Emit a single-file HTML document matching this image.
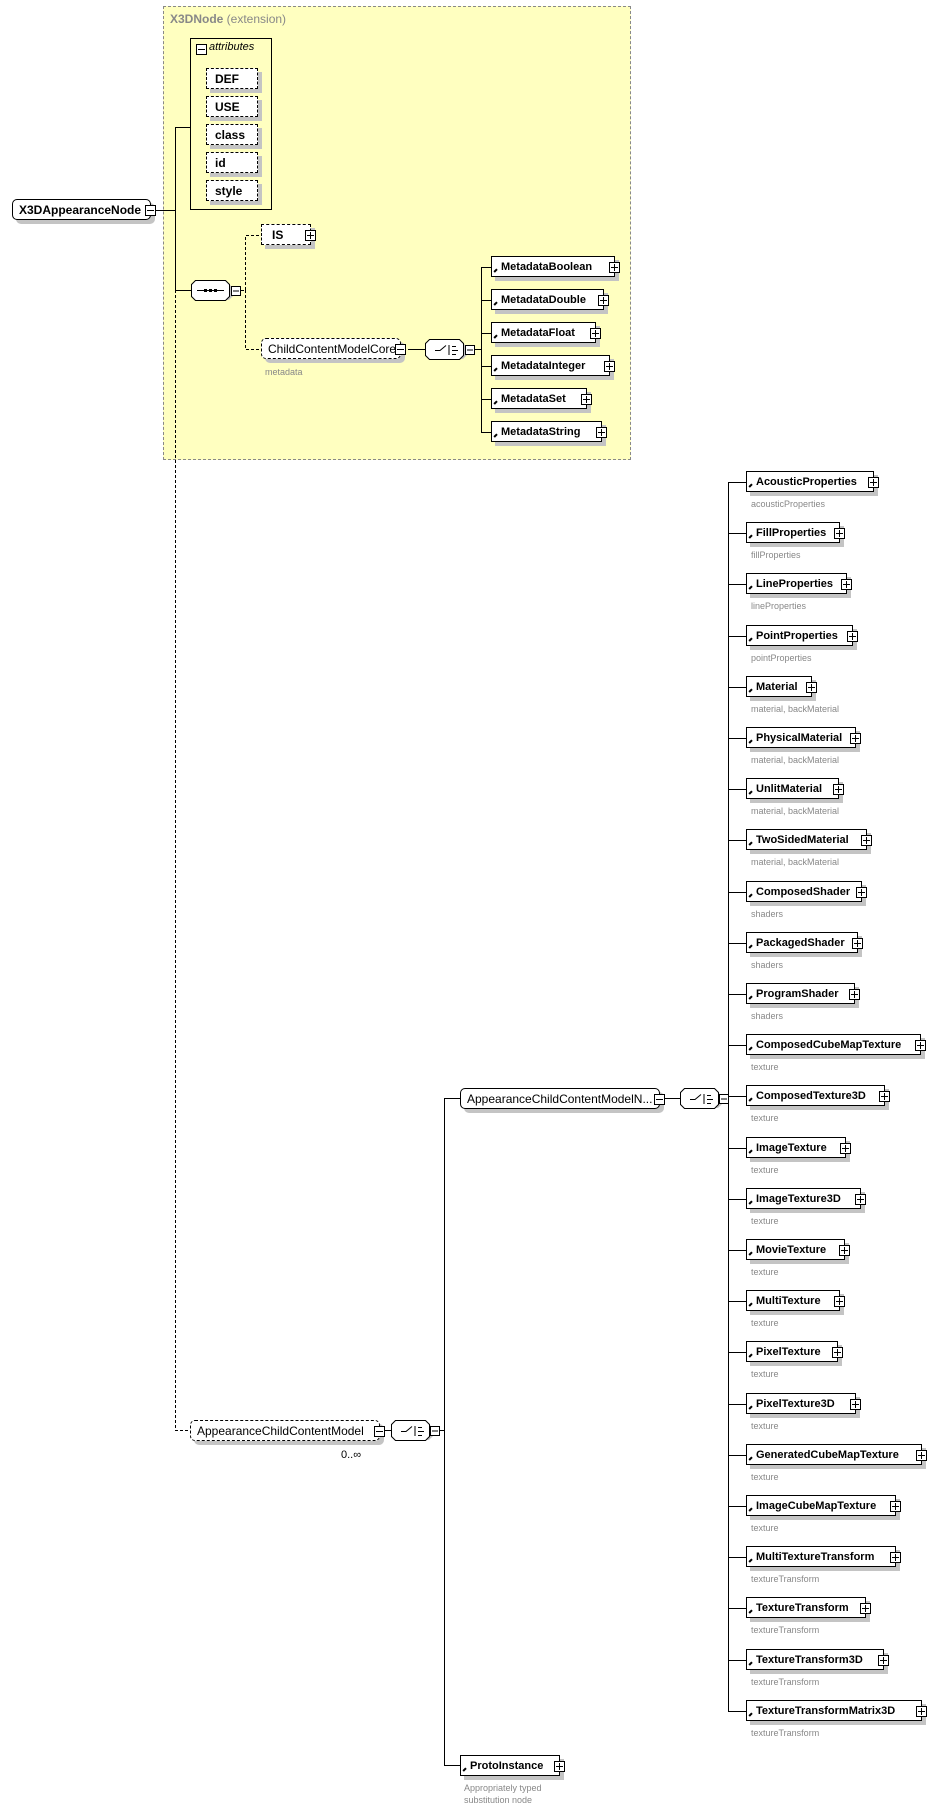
<!DOCTYPE html>
<html><head><meta charset="utf-8"><style>
body{margin:0;width:948px;height:1803px;position:relative;background:#fff;font-family:"Liberation Sans",sans-serif;overflow:hidden}
.e,.a{position:absolute;height:21px;border:1px solid #000;background:#fff;box-shadow:4px 4px 0 #c4c4c4;font-weight:bold;font-size:11px;line-height:21px;padding-left:9px;box-sizing:border-box;white-space:nowrap}
.e:before{content:"";position:absolute;left:2px;bottom:2px;width:4px;height:4px;border-left:2px solid #000;border-bottom:0;transform:rotate(45deg);}
.p{position:absolute;right:-6px;top:5px;width:9px;height:9px;border:1px solid #000;background:#fff;font-size:0}
.p:before{content:"";position:absolute;left:1px;top:4px;width:7px;height:1px;background:#000}
.p.pl:after{content:"";position:absolute;left:4px;top:1px;width:1px;height:7px;background:#000}
.a{border-style:dashed;padding-left:8px;font-size:12px}
.l{position:absolute;font-size:9px;color:#888;white-space:nowrap}
.g{position:absolute;height:21px;border:1px dashed #000;border-radius:5px;background:#fff;box-shadow:4px 4px 0 #c4c4c4;font-size:12px;line-height:21px;padding-left:6px;box-sizing:border-box;white-space:nowrap}
.s{position:absolute;height:21px;border:1px solid #000;border-radius:5px;background:#fff;box-shadow:4px 4px 0 #c4c4c4;font-size:12px;line-height:21px;padding-left:6px;box-sizing:border-box;white-space:nowrap}
</style></head><body>
<div style="position:absolute;left:163px;top:6px;width:468px;height:454px;background:#ffffc0;border:1px dashed #888;box-sizing:border-box"></div>
<div style="position:absolute;left:170px;top:12px;font-size:12px;color:#888"><b>X3DNode</b> (extension)</div>
<div style="position:absolute;left:190px;top:38px;width:82px;height:172px;border:1px solid #000;box-sizing:border-box;background:#ffffc0"></div>
<div style="position:absolute;left:196px;top:44px;width:9px;height:9px;border:1px solid #000;background:#fff"><div style="position:absolute;left:1px;top:4px;width:7px;height:1px;background:#000"></div></div>
<div style="position:absolute;left:209px;top:41px;font-size:11px;font-style:italic">attributes</div>

<svg width="948" height="1803" style="position:absolute;left:0;top:0" fill="none" stroke="#000" stroke-width="1">
<path d="M155 210.5H175.5M175.5 127V290M175 127.5H190M175 290.5H191"/>
<path d="M175.5 290V1430.5H190" stroke-dasharray="3,2"/>
<path d="M236 290.5H245.5V235.5H261M245.5 290V349.5H261" stroke-dasharray="3,2"/>
<path d="M408 349.5H425M469 349.5H481.5M481.5 267V432"/>
<path d="M481 267.5H491M481 300.5H491M481 333.5H491M481 366.5H491M481 399.5H491M481 432.5H491"/>
<path d="M384 1430.5H391M435 1430.5H444.5M444.5 1098V1765M444 1098.5H460M444 1765.5H460"/>
<path d="M665 1098.5H680M724 1098.5H728.5M728.5 482V1711"/>
<path d="M728 482.5H746M728 533.5H746M728 584.5H746M728 636.5H746M728 687.5H746M728 738.5H746M728 789.5H746M728 840.5H746M728 892.5H746M728 943.5H746M728 994.5H746M728 1045.5H746M728 1096.5H746M728 1148.5H746M728 1199.5H746M728 1250.5H746M728 1301.5H746M728 1352.5H746M728 1404.5H746M728 1455.5H746M728 1506.5H746M728 1557.5H746M728 1608.5H746M728 1660.5H746M728 1711.5H746"/>
<g fill="#c4c4c4" stroke="none">
<path d="M199 284h30l4 4v8l-4 4h-30l-4-4v-8z"/><path d="M433 343h30l4 4v8l-4 4h-30l-4-4v-8z"/>
<path d="M399 1424h30l4 4v8l-4 4h-30l-4-4v-8z"/><path d="M688 1092h30l4 4v8l-4 4h-30l-4-4v-8z"/>
</g>
<g fill="#fff">
<path d="M195.5 280.5h30l4 4v12l-4 4h-30l-4-4v-12z"/><path d="M429.5 339.5h30l4 4v12l-4 4h-30l-4-4v-12z"/>
<path d="M395.5 1420.5h30l4 4v12l-4 4h-30l-4-4v-12z"/><path d="M684.5 1088.5h30l4 4v12l-4 4h-30l-4-4v-12z"/>
<rect x="231.5" y="286.5" width="9" height="9"/><rect x="465.5" y="345.5" width="9" height="9"/>
<rect x="430.5" y="1426.5" width="9" height="9"/><rect x="719.5" y="1094.5" width="9" height="9"/>
</g>
<path d="M233 291H239M467 350H473M432 1431H438M721 1099H727"/>
<path d="M197 290.5H224" /><g fill="#000" stroke="none"><rect x="204" y="289" width="3" height="3"/><rect x="209" y="289" width="3" height="3"/><rect x="214" y="289" width="3" height="3"/></g>
<path d="M435 350.5h5l6-5M449 345v10M452 346.5h4M452 350.5h6M452 354.5h4" />
<path d="M401 1431.5h5l6-5M415 1426v10M418 1427.5h4M418 1431.5h6M418 1435.5h4"/>
<path d="M690 1099.5h5l6-5M704 1094v10M707 1095.5h4M707 1099.5h6M707 1103.5h4"/>
</svg>

<div class="s" style="left:12px;top:199px;width:139px;font-weight:bold">X3DAppearanceNode<span class="p"></span></div>
<div class="a" style="left:206px;top:68px;width:52px">DEF</div>
<div class="a" style="left:206px;top:96px;width:52px">USE</div>
<div class="a" style="left:206px;top:124px;width:52px">class</div>
<div class="a" style="left:206px;top:152px;width:52px">id</div>
<div class="a" style="left:206px;top:180px;width:52px">style</div>
<div class="a" style="left:261px;top:224px;width:50px;padding-left:10px">IS<span class="p pl"></span></div>
<div class="g" style="left:261px;top:338px;width:140px">ChildContentModelCore<span class="p"></span></div>
<div class="l" style="left:265px;top:367px">metadata</div>

<div class="e" style="left:491px;top:256px;width:124px">MetadataBoolean<span class="p pl"></span></div>
<div class="e" style="left:491px;top:289px;width:113px">MetadataDouble<span class="p pl"></span></div>
<div class="e" style="left:491px;top:322px;width:105px">MetadataFloat<span class="p pl"></span></div>
<div class="e" style="left:491px;top:355px;width:119px">MetadataInteger<span class="p pl"></span></div>
<div class="e" style="left:491px;top:388px;width:96px">MetadataSet<span class="p pl"></span></div>
<div class="e" style="left:491px;top:421px;width:111px">MetadataString<span class="p pl"></span></div>

<div class="g" style="left:190px;top:1420px;width:190px">AppearanceChildContentModel<span class="p"></span></div>
<div style="position:absolute;left:341px;top:1449px;font-size:11px">0..∞</div>
<div class="s" style="left:460px;top:1088px;width:200px">AppearanceChildContentModelN...<span class="p"></span></div>
<div class="e" style="left:460px;top:1755px;width:100px">ProtoInstance<span class="p pl"></span></div>
<div class="l" style="left:464px;top:1782px;line-height:12px">Appropriately typed<br>substitution node</div>

<div class="e" style="left:746px;top:471px;width:128px">AcousticProperties<span class="p pl"></span></div><div class="l" style="left:751px;top:499px">acousticProperties</div>
<div class="e" style="left:746px;top:522px;width:94px">FillProperties<span class="p pl"></span></div><div class="l" style="left:751px;top:550px">fillProperties</div>
<div class="e" style="left:746px;top:573px;width:101px">LineProperties<span class="p pl"></span></div><div class="l" style="left:751px;top:601px">lineProperties</div>
<div class="e" style="left:746px;top:625px;width:107px">PointProperties<span class="p pl"></span></div><div class="l" style="left:751px;top:653px">pointProperties</div>
<div class="e" style="left:746px;top:676px;width:66px">Material<span class="p pl"></span></div><div class="l" style="left:751px;top:704px">material, backMaterial</div>
<div class="e" style="left:746px;top:727px;width:110px">PhysicalMaterial<span class="p pl"></span></div><div class="l" style="left:751px;top:755px">material, backMaterial</div>
<div class="e" style="left:746px;top:778px;width:93px">UnlitMaterial<span class="p pl"></span></div><div class="l" style="left:751px;top:806px">material, backMaterial</div>
<div class="e" style="left:746px;top:829px;width:121px">TwoSidedMaterial<span class="p pl"></span></div><div class="l" style="left:751px;top:857px">material, backMaterial</div>
<div class="e" style="left:746px;top:881px;width:116px">ComposedShader<span class="p pl"></span></div><div class="l" style="left:751px;top:909px">shaders</div>
<div class="e" style="left:746px;top:932px;width:112px">PackagedShader<span class="p pl"></span></div><div class="l" style="left:751px;top:960px">shaders</div>
<div class="e" style="left:746px;top:983px;width:109px">ProgramShader<span class="p pl"></span></div><div class="l" style="left:751px;top:1011px">shaders</div>
<div class="e" style="left:746px;top:1034px;width:175px">ComposedCubeMapTexture<span class="p pl"></span></div><div class="l" style="left:751px;top:1062px">texture</div>
<div class="e" style="left:746px;top:1085px;width:139px">ComposedTexture3D<span class="p pl"></span></div><div class="l" style="left:751px;top:1113px">texture</div>
<div class="e" style="left:746px;top:1137px;width:100px">ImageTexture<span class="p pl"></span></div><div class="l" style="left:751px;top:1165px">texture</div>
<div class="e" style="left:746px;top:1188px;width:115px">ImageTexture3D<span class="p pl"></span></div><div class="l" style="left:751px;top:1216px">texture</div>
<div class="e" style="left:746px;top:1239px;width:99px">MovieTexture<span class="p pl"></span></div><div class="l" style="left:751px;top:1267px">texture</div>
<div class="e" style="left:746px;top:1290px;width:94px">MultiTexture<span class="p pl"></span></div><div class="l" style="left:751px;top:1318px">texture</div>
<div class="e" style="left:746px;top:1341px;width:92px">PixelTexture<span class="p pl"></span></div><div class="l" style="left:751px;top:1369px">texture</div>
<div class="e" style="left:746px;top:1393px;width:110px">PixelTexture3D<span class="p pl"></span></div><div class="l" style="left:751px;top:1421px">texture</div>
<div class="e" style="left:746px;top:1444px;width:176px">GeneratedCubeMapTexture<span class="p pl"></span></div><div class="l" style="left:751px;top:1472px">texture</div>
<div class="e" style="left:746px;top:1495px;width:150px">ImageCubeMapTexture<span class="p pl"></span></div><div class="l" style="left:751px;top:1523px">texture</div>
<div class="e" style="left:746px;top:1546px;width:150px">MultiTextureTransform<span class="p pl"></span></div><div class="l" style="left:751px;top:1574px">textureTransform</div>
<div class="e" style="left:746px;top:1597px;width:120px">TextureTransform<span class="p pl"></span></div><div class="l" style="left:751px;top:1625px">textureTransform</div>
<div class="e" style="left:746px;top:1649px;width:138px">TextureTransform3D<span class="p pl"></span></div><div class="l" style="left:751px;top:1677px">textureTransform</div>
<div class="e" style="left:746px;top:1700px;width:176px">TextureTransformMatrix3D<span class="p pl"></span></div><div class="l" style="left:751px;top:1728px">textureTransform</div>
</body></html>
